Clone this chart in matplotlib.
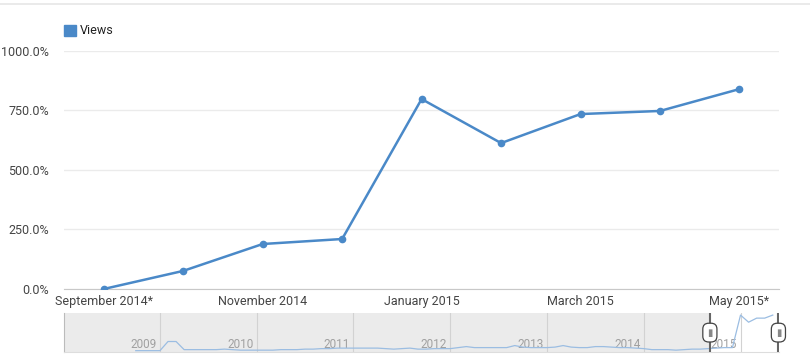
import matplotlib.pyplot as plt
import numpy as np
from matplotlib.patches import Rectangle

plt.rcParams['font.family'] = ['Roboto', 'DejaVu Sans']

# main series: monthly views change, Sep 2014 .. May 2015
months = ["Sep 2014", "Oct 2014", "Nov 2014", "Dec 2014", "Jan 2015",
          "Feb 2015", "Mar 2015", "Apr 2015", "May 2015"]
views = [0, 76, 189, 210, 798, 613, 735, 748, 840]
tick_idx = [0, 2, 4, 6, 8]
tick_labels = ["September 2014*", "November 2014", "January 2015",
               "March 2015", "May 2015*"]
yticks = [0, 250, 500, 750, 1000]

# overview (range selector) series, months counted from Jan 2009
mini_start = -3
mini_vals = [1, 1, 1, 1, 10, 10, 2, 2, 2, 2, 2, 2.5, 2, 1.5, 1.5, 1.5,
             1.5, 1.5, 2, 2, 2, 2.5, 2.5, 3, 3, 3.5, 3.5, 3.5,
             3.5, 3.5, 3.5, 3, 2.5, 3, 3.5, 2.5, 2.5, 3, 3, 3,
             4, 5, 4, 4, 4, 4, 4, 6, 4.5, 4, 4, 4,
             4.5, 6, 4.5, 4, 4, 5, 5, 4.5, 4, 4, 3.5, 3,
             2, 2, 2, 1.5, 2, 2.5, 2.5, 3, 3.5, 4, 4,
             36, 29, 33, 33, 36]
years = [2009, 2010, 2011, 2012, 2013, 2014, 2015]
sel_start, sel_end = 68.2, 76.7

blue = '#4a89c8'

fig = plt.figure(figsize=(8.1, 3.59), dpi=100)
fig.add_artist(plt.Line2D([0, 1], [0.988, 0.988], color='#e6e6e6', lw=1.2))

ax = fig.add_axes([0.079, 0.195, 0.883, 0.663])
x = np.arange(len(views))
ax.plot(x, views, color=blue, lw=1.8, marker='o', ms=4.5, zorder=3)
ax.set_xlim(-0.5, 8.5)
ax.set_ylim(0, 1000)
ax.set_yticks(yticks)
ax.set_yticklabels([f"{v:.1f}%" for v in yticks])
ax.set_xticks(tick_idx)
ax.set_xticklabels(tick_labels)
ax.grid(axis='y', color='#ebebeb', lw=1)
ax.set_axisbelow(True)
for s in ['top', 'right', 'left']:
    ax.spines[s].set_visible(False)
ax.spines['bottom'].set_color('#c8c8c8')
ax.tick_params(length=0, labelsize=9, colors='#444444')
ax.tick_params(axis='x', pad=4)
ax.tick_params(axis='y', pad=11)

# legend
fig.add_artist(Rectangle((0.079, 0.9), 0.0148, 0.03, color=blue,
                         transform=fig.transFigure))
fig.text(0.099, 0.914, "Views", fontsize=9, color='#222222', va='center')

# range selector
nav = fig.add_axes([0.079, 0.019, 0.883, 0.109])
nav.set_xlim(-11.9, 76.8)
nav.set_ylim(-0.5, 38)
nav.axvspan(-11.9, sel_start, color='#ebebeb', lw=0, zorder=0)
for i, yr in enumerate(years):
    m = 12 * i
    nav.axvline(m, color='#d2d2d2', lw=0.8, zorder=1)
    nav.text(m - 0.4, 0.5, str(yr), ha='right', va='bottom', fontsize=8.5,
             color='#a0a0a0', zorder=2)
mx = np.arange(mini_start, mini_start + len(mini_vals))
nav.plot(mx, mini_vals, color='#9bbde2', lw=0.9, zorder=3)
for hx in [sel_start, sel_end]:
    nav.axvline(hx, color='#666666', lw=1.5, zorder=4)
    nav.text(hx, 0.5, "▮", ha='center', va='center', fontsize=7,
             color='#888888', zorder=5, transform=nav.get_xaxis_transform(),
             bbox=dict(boxstyle='round,pad=0.45,rounding_size=0.6',
                       fc='white', ec='#444444', lw=0.9))
nav.set_xticks([])
nav.set_yticks([])
for s in ['top', 'right']:
    nav.spines[s].set_visible(False)
nav.spines['left'].set_color('#bbbbbb')
nav.spines['bottom'].set_color('#dddddd')

fig.savefig('out.png', dpi=100)
